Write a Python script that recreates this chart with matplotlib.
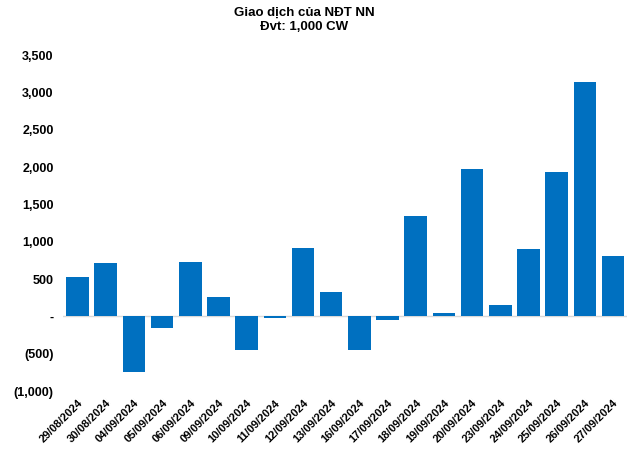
import matplotlib.pyplot as plt
from matplotlib.ticker import FuncFormatter

plt.rcParams['font.family'] = ['Liberation Sans', 'DejaVu Sans']

dates = ["29/08/2024", "30/08/2024", "04/09/2024", "05/09/2024", "06/09/2024",
         "09/09/2024", "10/09/2024", "11/09/2024", "12/09/2024", "13/09/2024",
         "16/09/2024", "17/09/2024", "18/09/2024", "19/09/2024", "20/09/2024",
         "23/09/2024", "24/09/2024", "25/09/2024", "26/09/2024", "27/09/2024"]
net_values = [522, 710, -750, -160, 723,
              255, -455, -27, 910, 320,
              -455, -50, 1340, 40, 1970,
              147, 897, 1930, 3135, 805]
y_ticks = [-1000, -500, 0, 500, 1000, 1500, 2000, 2500, 3000, 3500]


def acct_fmt(v, pos):
    if v == 0:
        return "-"
    if v < 0:
        return f"({abs(v):,.0f})"
    return f"{v:,.0f}"


fig = plt.figure(figsize=(6.4, 4.51), dpi=100)
ax = fig.add_axes([0.099, 0.133, 0.881, 0.745])

x = list(range(len(dates)))
ax.bar(x, net_values, width=0.8, color="#0070C0")
ax.axhline(0, color="#D9D9D9", linewidth=1, zorder=0)

ax.set_xlim(-0.5, len(dates) - 0.5)
ax.set_ylim(-1000, 3500)
ax.set_yticks(y_ticks)
ax.yaxis.set_major_formatter(FuncFormatter(acct_fmt))
ax.set_xticks(x)
ax.set_xticklabels(dates, rotation=45, ha="right", rotation_mode="anchor")

for s in ax.spines.values():
    s.set_visible(False)
ax.tick_params(axis="both", length=0)
ax.tick_params(axis="y", pad=7, labelsize=9)
ax.tick_params(axis="x", pad=5, labelsize=8)
for lbl in ax.get_xticklabels() + ax.get_yticklabels():
    lbl.set_fontweight("bold")

fig.text(0.475, 0.985, "Giao dịch của NĐT NN\nĐvt: 1,000 CW", ha="center", va="top",
         fontsize=9.5, fontweight="bold", linespacing=1.3)

fig.savefig("out.png", dpi=100)
